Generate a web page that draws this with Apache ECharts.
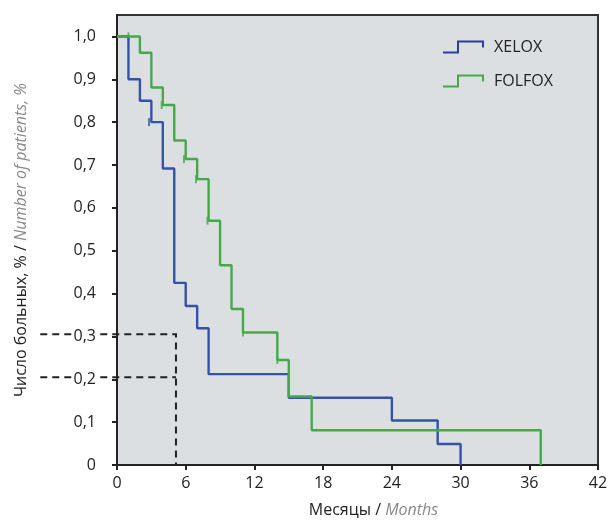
<!DOCTYPE html>
<html>
<head>
<meta charset="utf-8">
<script src="https://cdn.jsdelivr.net/npm/echarts@6/dist/echarts.min.js"></script>
<style>
  html, body { margin: 0; padding: 0; background: #fff; }
  #chart { width: 611px; height: 523px; }
</style>
</head>
<body>
<div id="chart"></div>
<script>
// Kaplan-Meier steps: time (months) and survival after that time
const xeloxTime = [0, 1, 2, 3, 4, 5, 6, 7, 8, 15, 24, 28, 30];
const xeloxSurv = [1.0, 0.9, 0.85, 0.8, 0.692, 0.425, 0.371, 0.319, 0.212, 0.157, 0.104, 0.049, 0];
const folfoxTime = [0, 2, 3, 4, 5, 6, 7, 8, 9, 10, 11, 14, 15, 17, 37];
const folfoxSurv = [1.0, 0.962, 0.881, 0.84, 0.757, 0.714, 0.667, 0.57, 0.466, 0.364, 0.309, 0.245, 0.16, 0.081, 0];

// censored observations
const xeloxCensor = [[2.8, 0.8]];
const folfoxCensor = [[1, 1.0], [3.9, 0.84], [5.85, 0.714], [6.9, 0.667], [7.9, 0.57], [11, 0.309], [14, 0.245]];

// dashed guide lines (polylines, x in months, y in share)
const guideHigh = [[-6.7, 0.305], [5.15, 0.305], [5.15, 0]];
const guideLow = [[-6.7, 0.205], [5.15, 0.205]];

const yTicks = [0, 0.1, 0.2, 0.3, 0.4, 0.5, 0.6, 0.7, 0.8, 0.9, 1.0];

const BLUE = '#3452a8';
const GREEN = '#45a947';
const FONT = '"Open Sans", "Noto Sans", sans-serif';

const zip = (xs, ys) => xs.map((x, i) => [x, ys[i]]);

// draws each guide polyline through the axes' scales, not clipped to the grid
function guideSeries(points) {
  return {
    type: 'custom', silent: true, clip: false, z: 2,
    data: [0],
    renderItem: (params, api) => ({
      type: 'polyline',
      shape: { points: points.map(p => api.coord(p)) },
      style: { stroke: '#222', lineWidth: 2, lineDash: [7, 5], fill: null }
    })
  };
}

const chart = echarts.init(document.getElementById('chart'));
chart.setOption({
  animation: false,
  textStyle: { fontFamily: FONT },
  grid: {
    show: true,
    left: 117, right: 13, top: 15, bottom: 55,
    backgroundColor: '#dcdfe2',
    borderColor: '#333',
    borderWidth: 2
  },
  legend: {
    orient: 'vertical',
    left: 437, top: 34,
    padding: 5,
    itemWidth: 40, itemHeight: 11, itemGap: 18,
    textStyle: { fontSize: 16, color: '#222', fontFamily: FONT, padding: [0, 0, 0, 6] },
    data: [
      { name: 'XELOX', icon: 'path://M0,11 L15,11 L15,0 L40,0 L40,6',
        itemStyle: { color: 'transparent', borderColor: '#2e3c9e', borderWidth: 2 } },
      { name: 'FOLFOX', icon: 'path://M0,11 L15,11 L15,0 L40,0 L40,6',
        itemStyle: { color: 'transparent', borderColor: GREEN, borderWidth: 2 } }
    ]
  },
  xAxis: {
    type: 'value', min: 0, max: 42, interval: 6,
    name: '{a|Месяцы / }{b|Months}',
    nameLocation: 'middle', nameGap: 37,
    nameTextStyle: {
      padding: [0, 0, 0, 32],
      rich: {
        a: { fontSize: 16, color: '#222', fontFamily: FONT },
        b: { fontSize: 16, color: '#888', fontStyle: 'italic', fontFamily: FONT }
      }
    },
    splitLine: { show: false },
    axisLine: { lineStyle: { color: '#222', width: 2 } },
    axisTick: { length: 5, lineStyle: { color: '#222', width: 2 } },
    axisLabel: { fontSize: 16, color: '#222', margin: 10 }
  },
  yAxis: {
    type: 'value', min: 0, max: 1.05,
    z: 3,
    name: '{a|Число больных, % / }{b|Number of patients, %}',
    nameLocation: 'middle', nameRotate: 90, nameGap: 88,
    nameTextStyle: {
      rich: {
        a: { fontSize: 16, color: '#222', fontFamily: FONT },
        b: { fontSize: 16, color: '#888', fontStyle: 'italic', fontFamily: FONT }
      }
    },
    splitLine: { show: false },
    axisLine: { lineStyle: { color: '#222', width: 2 } },
    axisTick: { length: 5, customValues: yTicks, lineStyle: { color: '#222', width: 2 } },
    axisLabel: {
      fontSize: 16, color: '#222', margin: 20,
      customValues: yTicks,
      backgroundColor: '#fff', padding: [0, 1],
      formatter: v => v === 0 ? '0' : v.toFixed(1).replace('.', ',')
    }
  },
  series: [
    {
      name: 'XELOX', type: 'line', step: 'end', symbol: 'none',
      data: zip(xeloxTime, xeloxSurv),
      lineStyle: { color: BLUE, width: 2.4 },
      itemStyle: { color: BLUE }
    },
    {
      name: 'FOLFOX', type: 'line', step: 'end', symbol: 'none',
      data: zip(folfoxTime, folfoxSurv),
      lineStyle: { color: GREEN, width: 2.4 },
      itemStyle: { color: GREEN }
    },
    {
      type: 'scatter', data: xeloxCensor, symbol: 'rect', symbolSize: [2, 8],
      itemStyle: { color: BLUE }, silent: true
    },
    {
      type: 'scatter', data: folfoxCensor, symbol: 'rect', symbolSize: [2, 8],
      itemStyle: { color: GREEN }, silent: true
    },
    guideSeries(guideHigh),
    guideSeries(guideLow)
  ]
});
</script>
</body>
</html>
